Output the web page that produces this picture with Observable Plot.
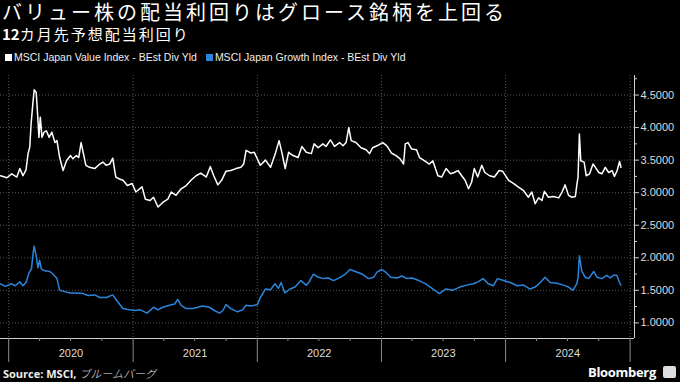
<!DOCTYPE html>
<html>
<head>
<meta charset="utf-8">
<script src="https://cdn.jsdelivr.net/npm/d3@7"></script>
<script src="https://cdn.jsdelivr.net/npm/@observablehq/plot@0.6"></script>
<style>
  body { margin:0; background:#000; width:680px; height:382px; overflow:hidden; position:relative; color:#fff; font-family:"Noto Sans CJK JP","Noto Sans",sans-serif; }
  #title { position:absolute; left:2px; top:1px; font-size:20px; line-height:22px; letter-spacing:3px; white-space:nowrap; }
  #subtitle { position:absolute; left:2px; top:25px; font-size:15px; line-height:18px; letter-spacing:2px; white-space:nowrap; }
  #subtitle b { letter-spacing:0; }
  #legend { position:absolute; left:5px; top:50px; font-family:"Liberation Sans",sans-serif; font-size:10.5px; line-height:14px; white-space:nowrap; color:#eee; }
  #legend span.sw { display:inline-block; width:7px; height:7px; margin-right:2px; vertical-align:0px; }
  #legend span.item { margin-right:9px; }
  #chart { position:absolute; left:0; top:65px; }
  #source { position:absolute; left:3px; top:366px; font-family:"Open Sans",sans-serif; font-size:11px; line-height:14px; font-weight:700; color:#eee; white-space:nowrap; }
  #source .ja { font-family:"Noto Sans CJK JP",sans-serif; font-weight:300; font-style:italic; }
  #brand { position:absolute; right:24px; top:363px; font-family:"Open Sans",sans-serif; font-size:13px; line-height:18px; font-weight:700; color:#fff; letter-spacing:-0.3px; }
  #icon { position:absolute; left:663px; top:366px; width:13px; height:12px; background:#ddd; border-radius:2px; }
</style>
</head>
<body>
<div id="title">バリュー株の配当利回りはグロース銘柄を上回る</div>
<div id="subtitle"><b>12</b>カ月先予想配当利回り</div>
<div id="legend"></div>
<div id="chart"></div>
<div id="source">Source: MSCI, <span class="ja">ブルームバーグ</span></div>
<div id="brand">Bloomberg</div>
<div id="icon"></div>
<script>
const seriesNames = ["MSCI Japan Value Index - BEst Div Yld", "MSCI Japan Growth Index - BEst Div Yld"];
const seriesColors = ["#ffffff", "#2a86dc"];

const valueDates = [
"2019-12-08","2019-12-27","2020-01-10","2020-01-25","2020-02-03","2020-02-12","2020-02-21","2020-02-27","2020-03-03","2020-03-07",
"2020-03-12","2020-03-16","2020-03-22","2020-03-26","2020-03-30","2020-04-03","2020-04-08","2020-04-14","2020-04-21","2020-04-29",
"2020-05-07","2020-05-16","2020-05-22","2020-05-30","2020-06-09","2020-06-19","2020-07-01","2020-07-08","2020-07-18","2020-07-25",
"2020-08-01","2020-08-07","2020-08-15","2020-08-26","2020-09-10","2020-09-25","2020-10-04","2020-10-14","2020-10-24","2020-11-02",
"2020-11-11","2020-11-22","2020-12-02","2020-12-15","2020-12-29","2021-01-09","2021-01-27","2021-02-06","2021-02-20","2021-03-02",
"2021-03-15","2021-03-29","2021-04-13","2021-04-23","2021-05-07","2021-05-22","2021-06-06","2021-06-20","2021-07-05","2021-07-19",
"2021-08-04","2021-08-16","2021-08-26","2021-09-07","2021-09-18","2021-10-01","2021-10-15","2021-10-30","2021-11-14","2021-11-22",
"2021-11-29","2021-12-13","2021-12-23","2022-01-10","2022-01-25","2022-02-09","2022-02-23","2022-03-06","2022-03-15","2022-03-24",
"2022-04-03","2022-04-16","2022-05-01","2022-05-12","2022-05-25","2022-06-09","2022-06-17","2022-06-29","2022-07-13","2022-07-22",
"2022-08-04","2022-08-16","2022-08-31","2022-09-10","2022-09-19","2022-09-27","2022-10-04","2022-10-18","2022-11-02","2022-11-17",
"2022-11-27","2022-12-06","2022-12-19","2023-01-05","2023-01-17","2023-01-30","2023-02-13","2023-02-25","2023-03-07","2023-03-12",
"2023-03-20","2023-03-31","2023-04-14","2023-04-23","2023-05-08","2023-05-22","2023-06-01","2023-06-16","2023-06-27","2023-07-10",
"2023-07-23","2023-08-03","2023-08-14","2023-08-25","2023-09-04","2023-09-14","2023-09-23","2023-10-01","2023-10-11","2023-10-23",
"2023-11-01","2023-11-15","2023-11-29","2023-12-13","2023-12-23","2024-01-10","2024-01-25","2024-02-09","2024-02-23","2024-03-08",
"2024-03-18","2024-03-28","2024-04-07","2024-04-17","2024-04-24","2024-05-06","2024-05-21","2024-06-05","2024-06-15","2024-06-24",
"2024-07-04","2024-07-14","2024-07-24","2024-07-29","2024-08-01","2024-08-05","2024-08-09","2024-08-19","2024-08-25","2024-09-04",
"2024-09-14","2024-09-21","2024-10-01","2024-10-10","2024-10-20","2024-10-30","2024-11-09","2024-11-16","2024-11-24","2024-12-01",
"2024-12-05"];
const valueYields = [
3.26,3.23,3.29,3.24,3.37,3.26,3.35,3.60,3.70,4.06,
4.36,4.58,4.54,4.21,3.85,4.16,3.85,3.93,3.95,3.85,
3.93,3.77,3.80,3.54,3.34,3.49,3.57,3.52,3.57,3.54,
3.77,3.62,3.42,3.39,3.37,3.44,3.47,3.42,3.44,3.53,
3.24,3.21,3.19,3.11,3.14,3.01,3.09,2.90,2.88,2.93,
2.78,2.85,2.90,3.01,2.96,3.06,3.11,3.19,3.26,3.30,
3.24,3.40,3.26,3.12,3.19,3.33,3.34,3.37,3.39,3.44,
3.65,3.61,3.62,3.42,3.50,3.39,3.60,3.80,3.60,3.37,
3.62,3.57,3.54,3.71,3.62,3.60,3.75,3.69,3.75,3.71,
3.81,3.71,3.77,3.72,3.77,4.00,3.80,3.77,3.69,3.66,
3.60,3.69,3.72,3.77,3.72,3.61,3.57,3.52,3.44,3.75,
3.77,3.67,3.66,3.54,3.49,3.44,3.49,3.26,3.24,3.37,
3.29,3.31,3.34,3.26,3.19,3.06,3.16,3.37,3.24,3.42,
3.31,3.26,3.24,3.34,3.33,3.19,3.14,3.08,3.03,2.93,
3.01,2.83,2.92,2.88,3.02,2.93,2.94,2.92,3.01,3.12,
2.96,2.93,2.94,3.14,3.24,3.90,3.49,3.47,3.26,3.29,
3.44,3.39,3.31,3.29,3.39,3.31,3.34,3.25,3.34,3.48,
3.39];

const growthDates = [
"2019-12-08","2019-12-22","2020-01-10","2020-01-20","2020-02-03","2020-02-12","2020-02-21","2020-03-02","2020-03-08","2020-03-12",
"2020-03-16","2020-03-22","2020-03-27","2020-04-01","2020-04-06","2020-04-16","2020-05-01","2020-05-10","2020-05-22","2020-05-30",
"2020-06-14","2020-06-29","2020-07-18","2020-08-07","2020-08-21","2020-09-10","2020-09-25","2020-10-14","2020-11-02","2020-11-17",
"2020-12-02","2020-12-21","2021-01-07","2021-01-22","2021-02-11","2021-03-02","2021-03-15","2021-03-29","2021-04-18","2021-05-03",
"2021-05-12","2021-05-22","2021-06-06","2021-06-26","2021-07-10","2021-07-24","2021-08-13","2021-08-28","2021-09-12","2021-09-22",
"2021-10-01","2021-10-15","2021-11-04","2021-11-19","2021-11-29","2021-12-13","2022-01-01","2022-01-10","2022-01-25","2022-02-09",
"2022-02-22","2022-03-04","2022-03-12","2022-03-23","2022-04-07","2022-04-22","2022-05-09","2022-05-25","2022-06-01","2022-06-15",
"2022-06-30","2022-07-14","2022-07-29","2022-08-13","2022-09-02","2022-09-17","2022-10-01","2022-10-16","2022-11-05","2022-11-24",
"2022-12-09","2022-12-19","2023-01-02","2023-01-13","2023-01-28","2023-02-16","2023-03-02","2023-03-17","2023-04-01","2023-04-21",
"2023-05-11","2023-05-30","2023-06-20","2023-07-09","2023-07-29","2023-08-19","2023-09-08","2023-09-28","2023-10-12","2023-10-27",
"2023-11-11","2023-11-26","2023-12-08","2023-12-26","2024-01-15","2024-02-04","2024-02-23","2024-03-13","2024-03-28","2024-04-12",
"2024-04-26","2024-05-11","2024-05-31","2024-06-19","2024-07-04","2024-07-17","2024-07-28","2024-08-01","2024-08-05","2024-08-12",
"2024-08-22","2024-09-01","2024-09-16","2024-09-26","2024-10-10","2024-10-24","2024-11-04","2024-11-13","2024-11-23","2024-12-01",
"2024-12-05"];
const growthYields = [
1.60,1.56,1.60,1.57,1.63,1.57,1.62,1.78,1.83,2.03,
2.18,2.03,1.85,1.96,1.83,1.80,1.79,1.75,1.68,1.50,
1.48,1.46,1.46,1.45,1.42,1.43,1.39,1.39,1.43,1.32,
1.22,1.20,1.19,1.20,1.15,1.24,1.20,1.24,1.27,1.29,
1.36,1.27,1.22,1.22,1.24,1.26,1.24,1.19,1.15,1.19,
1.28,1.22,1.17,1.20,1.27,1.26,1.28,1.39,1.52,1.51,
1.60,1.53,1.62,1.46,1.52,1.55,1.65,1.58,1.62,1.75,
1.70,1.68,1.69,1.65,1.70,1.75,1.82,1.79,1.75,1.68,
1.70,1.78,1.82,1.78,1.70,1.69,1.72,1.68,1.69,1.65,
1.60,1.53,1.45,1.52,1.50,1.55,1.58,1.60,1.63,1.68,
1.60,1.57,1.68,1.65,1.62,1.57,1.58,1.52,1.55,1.62,
1.70,1.62,1.61,1.58,1.55,1.50,1.60,1.69,2.03,1.80,
1.70,1.68,1.79,1.70,1.68,1.73,1.69,1.73,1.73,1.62,
1.58];

const yTicks = [1.0, 1.5, 2.0, 2.5, 3.0, 3.5, 4.0, 4.5];
const yMinorTicks = [1.25, 1.75, 2.25, 2.75, 3.25, 3.75, 4.25, 4.75];
const yearStarts = ["2020-01-01","2021-01-01","2022-01-01","2023-01-01","2024-01-01","2025-01-01"];
const quarterStarts = ["2020-04-01","2020-07-01","2020-10-01","2021-04-01","2021-07-01","2021-10-01","2022-04-01","2022-07-01","2022-10-01","2023-04-01","2023-07-01","2023-10-01","2024-04-01","2024-07-01","2024-10-01"];
const yearLabelDates = ["2020-07-02","2021-07-02","2022-07-02","2023-07-02","2024-07-02"];
const xDomain = ["2019-12-08","2025-01-14"];
const yDomain = [0.76, 4.80];

const P = d => new Date(d + "T00:00:00Z");
const valueData = valueDates.map((d, i) => ({date: P(d), y: valueYields[i]}));
const growthData = growthDates.map((d, i) => ({date: P(d), y: growthYields[i]}));

// legend
const legend = document.getElementById("legend");
legend.innerHTML = seriesNames.map((n, i) =>
  `<span class="item"><span class="sw" style="background:${seriesColors[i]}"></span>${n}</span>`).join("");

const gridStyle = {stroke: "#555555", strokeDasharray: "1,2", strokeOpacity: 1, strokeWidth: 1};

const chart = Plot.plot({
  width: 680,
  height: 300,
  marginTop: 10,
  marginBottom: 27,
  marginLeft: 0,
  marginRight: 46,
  style: {background: "transparent", color: "#ddd", fontFamily: "'Liberation Sans', sans-serif", fontSize: "11px", overflow: "visible"},
  x: {type: "utc", domain: xDomain.map(P), label: null},
  y: {domain: yDomain, label: null},
  marks: [
    Plot.gridY(yTicks, gridStyle),
    Plot.gridX(yearStarts.map(P), gridStyle),
    Plot.line(growthData, {x: "date", y: "y", stroke: seriesColors[1], strokeWidth: 1.5}),
    Plot.line(valueData, {x: "date", y: "y", stroke: seriesColors[0], strokeWidth: 1.5}),
    Plot.ruleX([P(xDomain[1])], {stroke: "#cfcfcf", strokeWidth: 1}),
    Plot.ruleY([yDomain[0]], {stroke: "#cfcfcf", strokeWidth: 1}),
    Plot.axisY(yTicks, {anchor: "right", label: null, tickSize: 4, tickPadding: 2, tickFormat: d => d.toFixed(4), stroke: "#cfcfcf", fill: "#dddddd", fontSize: 11}),
    Plot.axisY(yMinorTicks, {anchor: "right", label: null, tickSize: 2, text: null, stroke: "#cfcfcf"}),
    Plot.axisX(yearStarts.map(P), {label: null, tickSize: 24, text: null, stroke: "#8a8a8a"}),
    Plot.axisX(quarterStarts.map(P), {label: null, tickSize: 3, text: null, stroke: "#8a8a8a"}),
    Plot.axisX(yearLabelDates.map(P), {label: null, tickSize: 0, tickPadding: 11, tickFormat: d => String(d.getUTCFullYear()), fill: "#dddddd", fontSize: 11})
  ]
});
document.getElementById("chart").appendChild(chart);
</script>
</body>
</html>
